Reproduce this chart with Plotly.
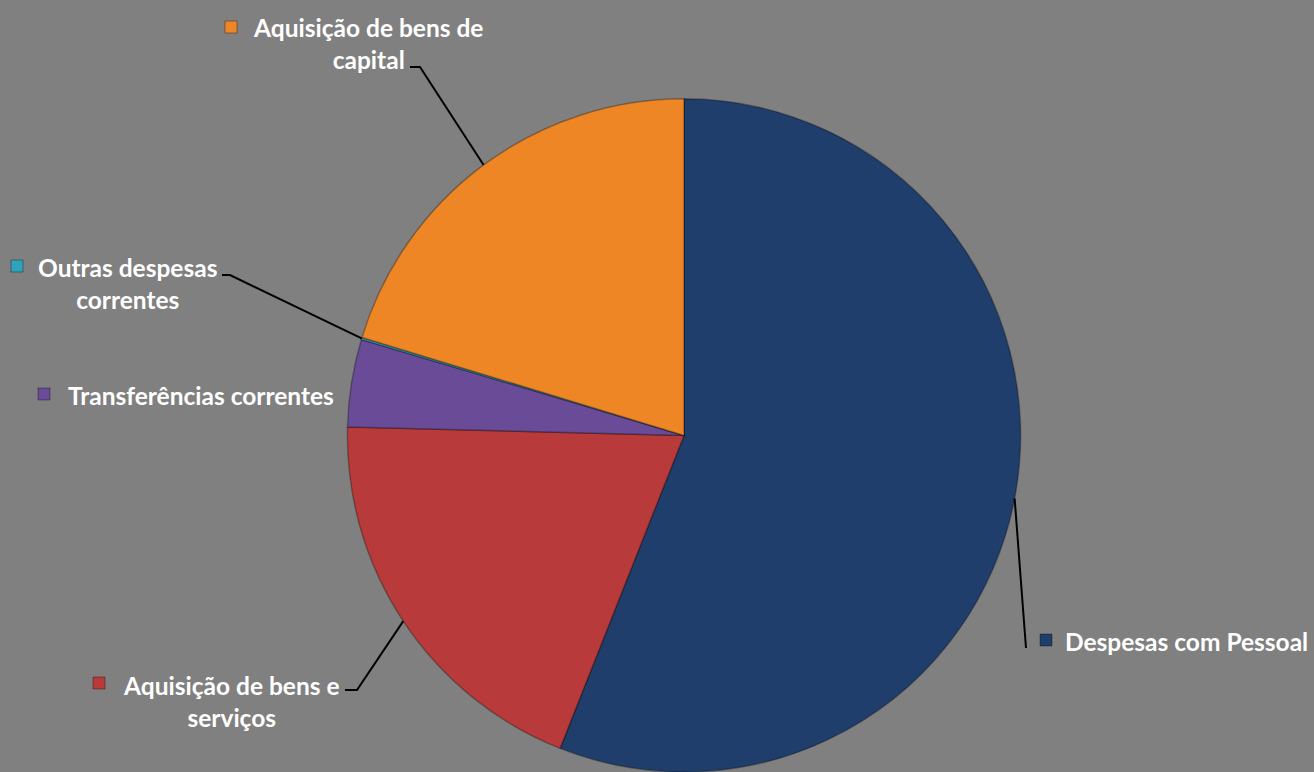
import math
import plotly.graph_objects as go

# ---- data ----
categories = ["Despesas com Pessoal", "Aquisição de bens e serviços",
              "Transferências correntes", "Outras despesas correntes",
              "Aquisição de bens de capital"]
values = [56.0, 19.4, 4.2, 0.1, 20.3]
colors = ["#1F3E6B", "#B93A3A", "#6A4B98", "#2FA2BC", "#EE8626"]

# label texts (with line breaks as in the reference)
label_texts = ["Despesas com Pessoal", "Aquisição de bens e<br>serviços",
               "Transferências correntes", "Outras despesas<br>correntes",
               "Aquisição de bens de<br>capital"]

W, H = 1314, 772
BG = "#808080"

# pie geometry (pixels)
dom_y = [0.0, 0.872]
R = (dom_y[1] - dom_y[0]) * H / 2
CX = 684
CY = H - (dom_y[0] + dom_y[1]) / 2 * H  # from top
dom_x = [(CX - R) / W, (CX + R) / W]

def px(x):
    return x / W

def py(y):
    return 1 - y / H

fig = go.Figure(go.Pie(
    labels=categories, values=values, sort=False, direction="clockwise",
    rotation=0, textinfo="none", hoverinfo="label+percent",
    marker=dict(colors=colors, line=dict(color="rgba(0,0,0,0.3)", width=1.5)),
    domain=dict(x=dom_x, y=dom_y), showlegend=False,
))

# mid-angle edge points, computed from data
total = sum(values)
cum = 0
edge = []
for v in values:
    mid = (cum + v / 2) / total * 2 * math.pi
    cum += v
    edge.append((CX + R * math.sin(mid), CY - R * math.cos(mid)))

# leader line bends (layout positions in pixels); None = no line
leader = [
    [(1026, 648)],
    [(357, 690), (345, 690)],
    None,
    [(230, 275), (222, 275)],
    [(420, 67), (410, 67)],
]
# label layout: square centre, text centre
label_pos = [
    ((1046, 640), (1186, 641)),
    ((99, 683), (231, 701)),
    ((44, 394), (201, 395)),
    ((17, 266), (127, 283)),
    ((231, 27), (368, 44)),
]

shapes = []
annotations = []
for i in range(len(categories)):
    if leader[i]:
        pts = [edge[i]] + leader[i]
        path = "M " + " L ".join(f"{px(x):.5f},{py(y):.5f}" for x, y in pts)
        shapes.append(dict(type="path", path=path, xref="paper", yref="paper",
                           line=dict(color="black", width=2)))
    (sx, sy), (tx, ty) = label_pos[i]
    s = 6
    shapes.append(dict(type="rect", xref="paper", yref="paper",
                       x0=px(sx - s), x1=px(sx + s), y0=py(sy + s), y1=py(sy - s),
                       fillcolor=colors[i], line=dict(color="rgba(0,0,0,0.35)", width=1)))
    annotations.append(dict(x=px(tx), y=py(ty), xref="paper", yref="paper",
                            text="<b>" + label_texts[i] + "</b>", showarrow=False,
                            xanchor="center", yanchor="middle", align="center",
                            font=dict(family="Lato", size=24.5, color="white")))

fig.update_layout(
    width=W, height=H, margin=dict(l=0, r=0, t=0, b=0),
    paper_bgcolor=BG, plot_bgcolor=BG,
    shapes=shapes, annotations=annotations,
)

fig.write_html("out.html", config={"displayModeBar": False},
               post_script="document.body.style.margin='0';"
                           "document.body.style.background='#808080';")
